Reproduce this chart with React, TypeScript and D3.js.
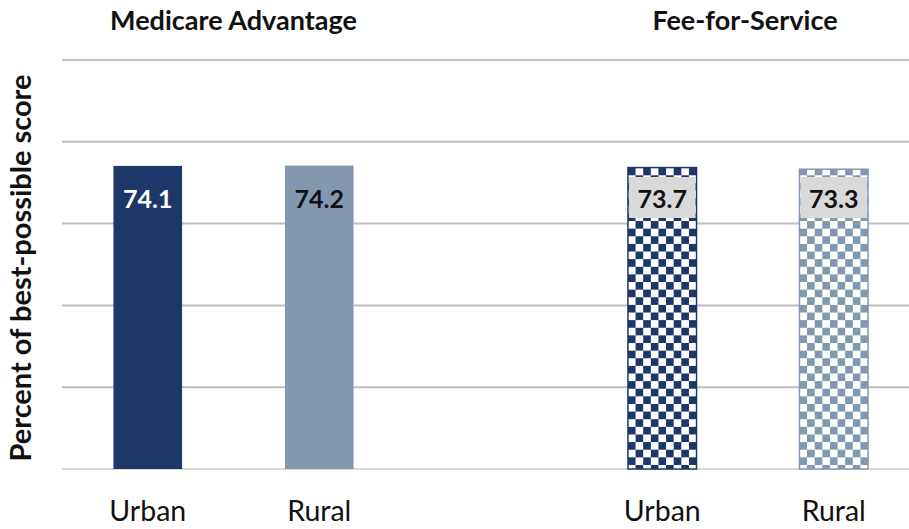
import React from "react";
import * as d3 from "d3";

const slots = ["MA-Urban", "MA-Rural", "gap", "FFS-Urban", "FFS-Rural"];
const barKeys = ["MA-Urban", "MA-Rural", "FFS-Urban", "FFS-Rural"];
const barLabels = ["Urban", "Rural", "Urban", "Rural"];
const barValues = [74.1, 74.2, 73.7, 73.3];
const groups = ["Medicare Advantage", "Fee-for-Service"];
const groupMembers = [["MA-Urban", "MA-Rural"], ["FFS-Urban", "FFS-Rural"]];
const yTicks = [0, 20, 40, 60, 80, 100];

const W = 909;
const H = 529;
const FONT = "Lato, 'Open Sans', sans-serif";

export default function App() {
  const x = d3.scaleBand<string>().domain(slots).range([62, 919.5]).paddingInner(0.6).paddingOuter(0.3);
  const y = d3.scaleLinear().domain([0, 100]).range([469, 60]);
  const bw = x.bandwidth();
  const cell = bw / 9;
  const fills = ["#1c3768", "#8497b0", "url(#chkDark)", "url(#chkLight)"];
  const textColors = ["#ffffff", "#111111", "#111111", "#111111"];
  const patColors = ["#1c3768", "#8497b0"];

  return (
    <svg width={W} height={H} style={{ position: "absolute", left: 0, top: 0, background: "#fff" }}>
      <defs>
        {["chkDark", "chkLight"].map((id, i) => {
          const x0 = x(barKeys[2 + i])!;
          return (
            <pattern key={id} id={id} patternUnits="userSpaceOnUse" x={x0} y={0} width={cell * 2} height={cell * 2}>
              <rect width={cell * 2} height={cell * 2} fill={patColors[i]} />
              <rect x={cell} y={0} width={cell} height={cell} fill="#fff" />
              <rect x={0} y={cell} width={cell} height={cell} fill="#fff" />
            </pattern>
          );
        })}
      </defs>
      {yTicks.map((t) => (
        <line key={t} x1={62} x2={W} y1={y(t)} y2={y(t)} stroke={t === 0 ? "#d9d9d9" : "#bfbfbf"} strokeWidth={2} />
      ))}
      {barKeys.map((k, i) => {
        const bx = x(k)!;
        const by = y(barValues[i]);
        const bh = y(0) - by;
        const isFFS = i >= 2;
        return (
          <g key={k}>
            <rect x={bx} y={by} width={bw} height={bh} fill={fills[i]}
              stroke={isFFS ? patColors[i - 2] : "none"} strokeWidth={isFFS ? 1.5 : 0} />
            {isFFS && (
              <rect x={bx + 1} y={177} width={bw - 2} height={41} fill="#d9d9d9" />
            )}
            <text x={bx + bw / 2} y={198} textAnchor="middle" dominantBaseline="central"
              fontFamily={FONT} fontWeight={700} fontSize={25} fill={textColors[i]}>
              {barValues[i].toFixed(1)}
            </text>
            <text x={bx + bw / 2} y={521} textAnchor="middle" fontFamily={FONT} fontSize={28.5} fill="#111">
              {barLabels[i]}
            </text>
          </g>
        );
      })}
      {groups.map((g, gi) => {
        const a = x(groupMembers[gi][0])!;
        const b = x(groupMembers[gi][1])! + bw;
        return (
          <text key={g} x={(a + b) / 2 - (gi === 1 ? 3 : 0)} y={30} textAnchor="middle" fontFamily={FONT}
            fontWeight={700} fontSize={27} fill="#111">
            {g}
          </text>
        );
      })}
      <text transform={`translate(31,${268}) rotate(-90)`} textAnchor="middle" fontFamily={FONT}
        fontWeight={700} fontSize={29} fill="#111">
        Percent of best-possible score
      </text>
    </svg>
  );
}
